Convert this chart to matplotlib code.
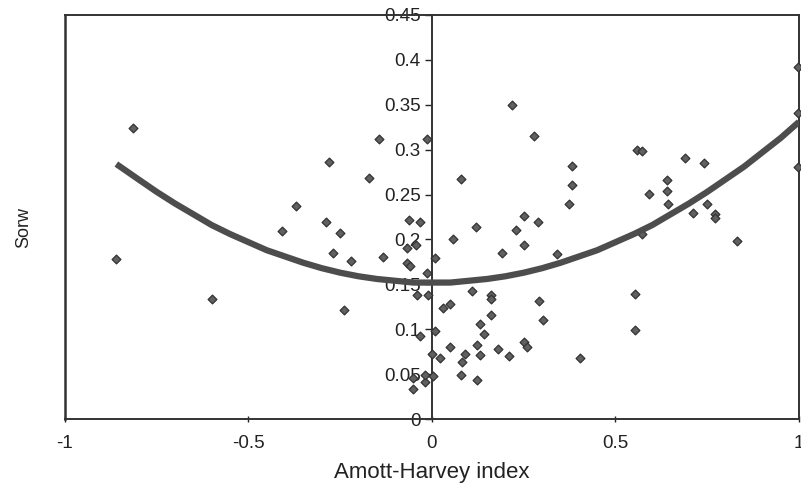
import matplotlib
matplotlib.use("Agg")
import matplotlib.pyplot as plt
import numpy as np

plt.rcParams['font.family'] = ['Liberation Sans', 'DejaVu Sans']

# Scatter data (Amott-Harvey index, Sorw)
amott_x = [-0.861, -0.814, -0.600, -0.410, -0.371, -0.290, -0.280, -0.271, -0.251, -0.240,
           -0.221, -0.172, -0.144, -0.133, -0.062, -0.033, -0.069, -0.044, -0.069, -0.060,
           -0.013, -0.013, -0.042, -0.012, -0.033, -0.051, -0.019, -0.051, 0.008, 0.078,
           0.219, 0.279, 0.381, 0.381, 0.372, 0.251, 0.290, 0.120, 0.229, 0.058,
           0.252, 0.190, 0.340, 0.558, 0.572, 0.689, 0.741, 0.639, 0.639, 0.590,
           0.644, 0.712, 0.750, 0.770, 0.770, 0.830, 0.571, 0.998, 0.998, 0.998,
           0.110, 0.160, 0.160, 0.031, 0.049, 0.292, 0.160, 0.302, 0.553, 0.553,
           0.131, 0.143, 0.008, 0.049, 0.122, 0.181, 0.252, 0.258, 0.211, 0.403,
           -0.001, 0.022, 0.090, 0.081, 0.131, 0.079, 0.122, -0.019, 0.002]
sorw_y = [0.178, 0.324, 0.134, 0.209, 0.237, 0.219, 0.286, 0.185, 0.207, 0.122,
          0.176, 0.269, 0.312, 0.181, 0.222, 0.219, 0.191, 0.194, 0.174, 0.171,
          0.312, 0.163, 0.138, 0.138, 0.093, 0.046, 0.041, 0.034, 0.179, 0.267,
          0.350, 0.315, 0.282, 0.261, 0.240, 0.226, 0.220, 0.214, 0.210, 0.201,
          0.194, 0.185, 0.184, 0.300, 0.299, 0.291, 0.285, 0.266, 0.254, 0.251,
          0.240, 0.229, 0.240, 0.228, 0.224, 0.198, 0.206, 0.392, 0.341, 0.281,
          0.143, 0.138, 0.134, 0.124, 0.128, 0.131, 0.116, 0.110, 0.139, 0.099,
          0.106, 0.095, 0.098, 0.080, 0.083, 0.078, 0.086, 0.080, 0.070, 0.068,
          0.073, 0.068, 0.072, 0.064, 0.071, 0.049, 0.043, 0.049, 0.048]

# Trend curve
trend_x = [-0.86, -0.8, -0.75, -0.7, -0.65, -0.6, -0.55, -0.5, -0.45, -0.4, -0.35, -0.3,
           -0.25, -0.2, -0.15, -0.1, -0.05, 0.0, 0.05, 0.1, 0.15, 0.2, 0.25, 0.3, 0.35,
           0.4, 0.45, 0.5, 0.55, 0.6, 0.65, 0.7, 0.75, 0.8, 0.85, 0.9, 0.95, 1.0]
trend_y = [0.284, 0.267, 0.253, 0.240, 0.228, 0.216, 0.206, 0.197, 0.188, 0.181, 0.174, 0.168,
           0.163, 0.159, 0.156, 0.154, 0.152, 0.152, 0.152, 0.154, 0.156, 0.159, 0.163, 0.168,
           0.174, 0.181, 0.188, 0.197, 0.206, 0.216, 0.228, 0.240, 0.253, 0.267, 0.281,
           0.297, 0.313, 0.331]

x_ticks = [-1, -0.5, 0, 0.5, 1]
x_ticklabels = ['-1', '-0.5', '0', '0.5', '1']
y_ticks = [0, 0.05, 0.1, 0.15, 0.2, 0.25, 0.3, 0.35, 0.4, 0.45]
y_ticklabels = ['0', '0.05', '0.1', '0.15', '0.2', '0.25', '0.3', '0.35', '0.4', '0.45']

fig = plt.figure(figsize=(8.01, 4.93), dpi=100)
ax = fig.add_axes([0.0811, 0.150, 0.9164, 0.8196])

ax.scatter(amott_x, sorw_y, marker='D', s=20, facecolor='#606060', edgecolor='#333333',
           linewidths=0.9, zorder=3, clip_on=False)
ax.plot(trend_x, trend_y, color='#4d4d4d', linewidth=4.5, solid_capstyle='butt', zorder=4)

ax.set_xlim(-1, 1)
ax.set_ylim(0, 0.45)

ax.spines['left'].set_position(('data', 0))
for s in ax.spines.values():
    s.set_color('#333333')
    s.set_linewidth(1.4)
ax.axvline(-1, color='#333333', linewidth=1.8, clip_on=False, zorder=5)

ax.set_xticks(x_ticks)
ax.set_xticklabels(x_ticklabels)
ax.set_yticks(y_ticks)
ax.set_yticklabels(y_ticklabels)
ax.tick_params(axis='both', labelsize=13.5, colors='#222222', length=5, width=1)
ax.tick_params(axis='x', direction='inout', pad=9)
ax.tick_params(axis='y', direction='out', pad=3)

ax.set_xlabel('Amott-Harvey index', fontsize=16, color='#222222', labelpad=7)
ax.set_ylabel('Sorw', fontsize=13, color='#222222')
ax.yaxis.set_label_coords(-0.044, 0.473)

fig.savefig('out.png', dpi=100)
